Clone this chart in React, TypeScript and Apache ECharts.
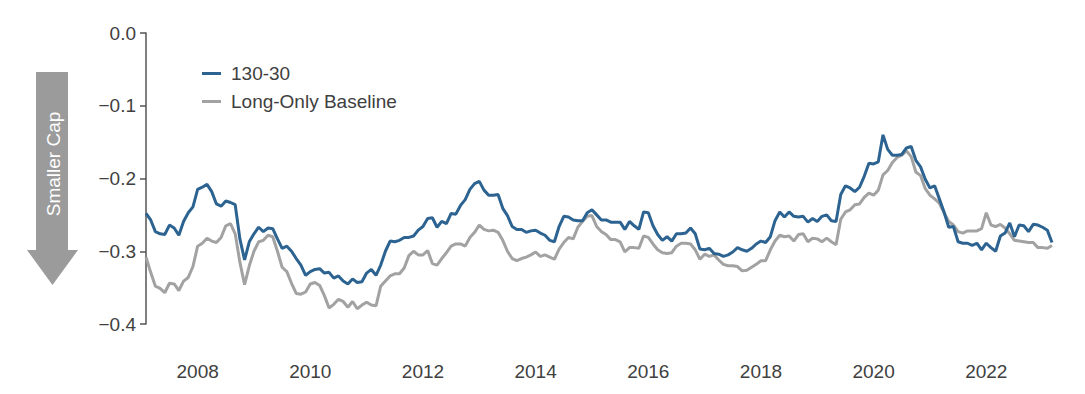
import React, { useEffect, useRef } from "react";
import * as echarts from "echarts";

const START_YEAR = 2007;
const START_MONTH = 2; // February 2007, monthly observations

const series130_30 = [
  -0.248, -0.257, -0.273, -0.276, -0.277, -0.264, -0.268, -0.278, -0.259, -0.247,
  -0.239, -0.215, -0.212, -0.208, -0.218, -0.235, -0.238, -0.231, -0.233, -0.236,
  -0.283, -0.312, -0.287, -0.276, -0.267, -0.273, -0.268, -0.269, -0.283, -0.296,
  -0.293, -0.300, -0.310, -0.319, -0.333, -0.328, -0.325, -0.324, -0.330, -0.329,
  -0.337, -0.334, -0.341, -0.345, -0.338, -0.343, -0.342, -0.330, -0.325, -0.333,
  -0.319, -0.300, -0.286, -0.287, -0.285, -0.281, -0.281, -0.279, -0.271, -0.266,
  -0.255, -0.254, -0.267, -0.259, -0.262, -0.248, -0.249, -0.237, -0.229, -0.215,
  -0.207, -0.204, -0.216, -0.223, -0.223, -0.222, -0.241, -0.251, -0.266, -0.270,
  -0.270, -0.274, -0.272, -0.271, -0.275, -0.278, -0.285, -0.287, -0.266, -0.252,
  -0.253, -0.257, -0.258, -0.258, -0.247, -0.243, -0.250, -0.257, -0.257, -0.260,
  -0.260, -0.260, -0.270, -0.259, -0.265, -0.270, -0.246, -0.247, -0.265, -0.277,
  -0.285, -0.280, -0.286, -0.276, -0.276, -0.275, -0.268, -0.276, -0.297, -0.298,
  -0.296, -0.303, -0.304, -0.307, -0.305, -0.301, -0.295, -0.298, -0.300, -0.296,
  -0.290, -0.286, -0.288, -0.280, -0.258, -0.246, -0.253, -0.246, -0.252, -0.253,
  -0.252, -0.260, -0.255, -0.259, -0.252, -0.250, -0.258, -0.259, -0.222, -0.210,
  -0.213, -0.218, -0.212, -0.197, -0.179, -0.180, -0.177, -0.140, -0.160, -0.168,
  -0.168, -0.167, -0.158, -0.156, -0.175, -0.184, -0.201, -0.213, -0.210, -0.228,
  -0.246, -0.267, -0.266, -0.287, -0.289, -0.289, -0.292, -0.289, -0.298, -0.289,
  -0.295, -0.300, -0.279, -0.275, -0.261, -0.280, -0.264, -0.265, -0.273, -0.263,
  -0.264, -0.267, -0.271, -0.288,
];

const seriesBaseline = [
  -0.308, -0.329, -0.348, -0.351, -0.357, -0.344, -0.345, -0.354, -0.341, -0.336,
  -0.321, -0.293, -0.289, -0.282, -0.286, -0.288, -0.281, -0.265, -0.262, -0.276,
  -0.315, -0.346, -0.320, -0.300, -0.287, -0.285, -0.278, -0.280, -0.300, -0.322,
  -0.328, -0.344, -0.358, -0.359, -0.356, -0.345, -0.343, -0.347, -0.361, -0.378,
  -0.373, -0.366, -0.369, -0.377, -0.369, -0.379, -0.374, -0.370, -0.374, -0.375,
  -0.348, -0.341, -0.334, -0.331, -0.331, -0.323, -0.306, -0.300, -0.305, -0.305,
  -0.299, -0.317, -0.319, -0.310, -0.302, -0.293, -0.290, -0.290, -0.293, -0.281,
  -0.274, -0.264, -0.270, -0.272, -0.271, -0.274, -0.285, -0.300, -0.310, -0.313,
  -0.310, -0.308, -0.305, -0.301, -0.307, -0.305, -0.308, -0.311, -0.297, -0.288,
  -0.281, -0.283, -0.267, -0.259, -0.252, -0.251, -0.266, -0.273, -0.277, -0.284,
  -0.284, -0.287, -0.301, -0.295, -0.295, -0.296, -0.279, -0.281, -0.290, -0.298,
  -0.302, -0.303, -0.302, -0.293, -0.289, -0.289, -0.290, -0.298, -0.311, -0.304,
  -0.307, -0.305, -0.312, -0.318, -0.320, -0.320, -0.321, -0.327, -0.326, -0.322,
  -0.318, -0.313, -0.313, -0.298, -0.286, -0.278, -0.280, -0.279, -0.286, -0.277,
  -0.276, -0.287, -0.282, -0.283, -0.287, -0.282, -0.287, -0.291, -0.256, -0.246,
  -0.243, -0.236, -0.235, -0.226, -0.220, -0.223, -0.216, -0.195, -0.189, -0.178,
  -0.171, -0.168, -0.162, -0.170, -0.191, -0.196, -0.214, -0.223, -0.228, -0.234,
  -0.247, -0.259, -0.264, -0.273, -0.275, -0.272, -0.272, -0.272, -0.269, -0.247,
  -0.264, -0.266, -0.263, -0.268, -0.276, -0.285, -0.286, -0.287, -0.288, -0.288,
  -0.295, -0.295, -0.296, -0.292,
];

const yearTicks = [2008, 2010, 2012, 2014, 2016, 2018, 2020, 2022];
const yTicks = [0, -0.1, -0.2, -0.3, -0.4];
const seriesNames = ["130-30", "Long-Only Baseline"];
const arrowLabel = "Smaller Cap";

const BLUE = "#2c6391";
const GRAY = "#a2a2a2";
const FONT = "Liberation Sans, Arial, sans-serif";

function monthX(i: number): number {
  return START_YEAR + (START_MONTH - 1 + i) / 12;
}

export default function App() {
  const ref = useRef<HTMLDivElement>(null);

  useEffect(() => {
    document.body.style.margin = "0";
    if (!ref.current) return;
    const chart = echarts.init(ref.current, undefined, { renderer: "svg" });
    const n = series130_30.length;
    const xMin = monthX(0);
    const xMax = monthX(n - 1);
    const fmt = (v: number) => {
      const s = Math.abs(v).toFixed(1);
      return v < -1e-9 ? "\u2212" + s : s;
    };
    chart.setOption({
      animation: false,
      backgroundColor: "#ffffff",
      textStyle: { fontFamily: FONT },
      grid: { left: 146, right: 33, top: 33, bottom: 70, containLabel: false },
      legend: {
        data: seriesNames,
        orient: "vertical",
        left: 197,
        top: 59,
        itemWidth: 19,
        itemHeight: 3,
        itemGap: 9,
        icon: "rect",
        textStyle: {
          fontSize: 19,
          color: "#404040",
          fontFamily: FONT,
          padding: [0, 0, 0, 5],
        },
      },
      xAxis: {
        type: "value",
        min: xMin,
        max: xMax,
        axisLine: { show: false },
        axisTick: { show: false },
        splitLine: { show: false },
        axisLabel: {
          customValues: yearTicks,
          formatter: (v: number) => String(Math.round(v)),
          fontSize: 19,
          color: "#404040",
          margin: 38,
          fontFamily: FONT,
        },
      },
      yAxis: {
        type: "value",
        min: -0.4,
        max: 0,
        interval: 0.1,
        axisLine: { show: true, lineStyle: { color: "#555555", width: 1.5 } },
        axisTick: {
          show: true,
          length: 6,
          customValues: yTicks,
          lineStyle: { color: "#555555", width: 1.5 },
        },
        splitLine: { show: false },
        axisLabel: {
          customValues: yTicks,
          formatter: fmt,
          fontSize: 19,
          color: "#404040",
          margin: 10,
          fontFamily: FONT,
        },
      },
      series: [
        {
          name: seriesNames[0],
          type: "line",
          data: series130_30.map((v, i) => [monthX(i), v]),
          showSymbol: false,
          symbol: "none",
          lineStyle: { color: BLUE, width: 3 },
          itemStyle: { color: BLUE },
          z: 3,
        },
        {
          name: seriesNames[1],
          type: "line",
          data: seriesBaseline.map((v, i) => [monthX(i), v]),
          showSymbol: false,
          symbol: "none",
          lineStyle: { color: GRAY, width: 3 },
          itemStyle: { color: GRAY },
          z: 2,
        },
      ],
      graphic: [
        {
          type: "rect",
          shape: { x: 36, y: 72, width: 32, height: 178 },
          style: { fill: "#9b9b9b" },
        },
        {
          type: "polygon",
          shape: { points: [[27, 250], [78, 250], [52.5, 285]] },
          style: { fill: "#9b9b9b" },
        },
        {
          type: "text",
          x: 53,
          y: 164,
          rotation: Math.PI / 2,
          style: {
            text: arrowLabel,
            fill: "#ffffff",
            fontSize: 19,
            fontFamily: FONT,
            align: "center",
            verticalAlign: "middle",
          },
        },
      ],
    });
    return () => chart.dispose();
  }, []);

  return <div ref={ref} style={{ width: 1085, height: 394 }} />;
}
